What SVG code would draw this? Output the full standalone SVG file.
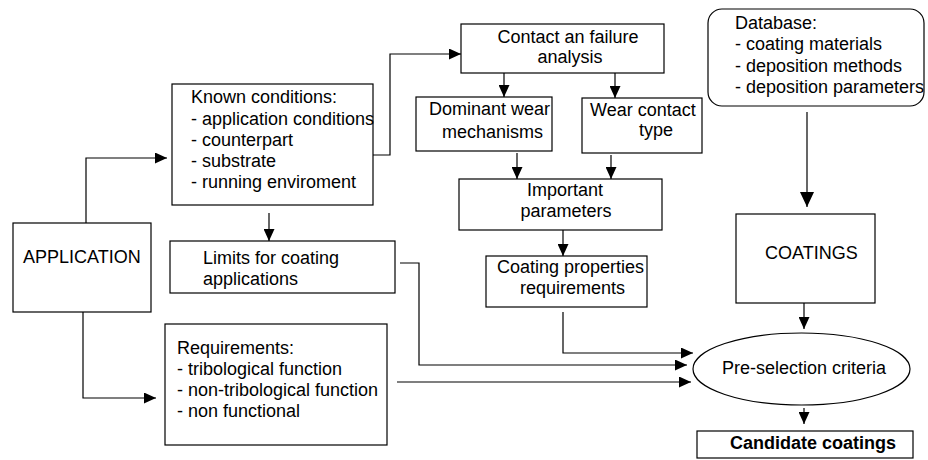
<svg xmlns="http://www.w3.org/2000/svg" width="928" height="460" viewBox="0 0 928 460">
<style>
  .box { fill: #fff; stroke: #000; stroke-width: 1.2; }
  .t { font-family: "Liberation Sans", Arial, sans-serif; font-size: 18px; fill: #000; }
  .b { font-weight: bold; }
  .c { text-anchor: middle; }
  .ln { fill: none; stroke: #000; stroke-width: 1.2; marker-end: url(#ah); }
  .lnb { fill: none; stroke: #000; stroke-width: 1.2; marker-end: url(#ahb); }
</style>
<defs>
  <marker id="ah" viewBox="0 0 12 11" refX="12" refY="5.5" markerWidth="12" markerHeight="11" markerUnits="userSpaceOnUse" orient="auto">
    <path d="M0,0 L12,5.5 L0,11 z" fill="#000"/>
  </marker>
  <marker id="ahb" viewBox="0 0 15 14" refX="15" refY="7" markerWidth="15" markerHeight="14" markerUnits="userSpaceOnUse" orient="auto">
    <path d="M0,0 L15,7 L0,14 z" fill="#000"/>
  </marker>
</defs>
<rect width="928" height="460" fill="#fff"/>

<g id="connectors">
  <path class="ln" d="M86,223 V158 H167"/>
  <path class="ln" d="M83,312 V398 H156"/>
  <path class="ln" d="M373,155 H390 V54 H461"/>
  <path class="ln" d="M269,213 V241"/>
  <path class="ln" d="M504,73 V97"/>
  <path class="ln" d="M615,73 V98"/>
  <path class="ln" d="M517,153 V179"/>
  <path class="ln" d="M611,155 V179"/>
  <path class="ln" d="M563,230 V256"/>
  <path class="ln" d="M563,312 V353 H693"/>
  <path class="ln" d="M400,263 H419 V365 H687"/>
  <path class="ln" d="M397,382 H691"/>
  <path class="lnb" d="M807,112 V207"/>
  <path class="ln" d="M804,303 V329"/>
  <path class="ln" d="M804,408 V424"/>
</g>

<g id="application">
  <rect class="box" x="13" y="223" width="138" height="89"/>
  <text class="t" x="23" y="263">APPLICATION</text>
</g>

<g id="known">
  <rect class="box" x="172" y="84" width="201" height="121"/>
  <text class="t" x="191" y="103">Known conditions:</text>
  <text class="t" x="191" y="124.5">- application conditions</text>
  <text class="t" x="191" y="146">- counterpart</text>
  <text class="t" x="191" y="167">- substrate</text>
  <text class="t" x="191" y="188">- running enviroment</text>
</g>

<g id="limits">
  <rect class="box" x="170" y="241" width="225" height="52"/>
  <text class="t" x="203" y="264">Limits for coating</text>
  <text class="t" x="203" y="285">applications</text>
</g>

<g id="requirements">
  <rect class="box" x="165" y="324" width="222" height="121"/>
  <text class="t" x="177" y="354">Requirements:</text>
  <text class="t" x="177" y="375">- tribological function</text>
  <text class="t" x="177" y="396">- non-tribological function</text>
  <text class="t" x="177" y="417">- non functional</text>
</g>

<g id="contact">
  <rect class="box" x="461" y="24" width="203" height="49"/>
  <text class="t c" x="568" y="43">Contact an failure</text>
  <text class="t c" x="570" y="63">analysis</text>
</g>

<g id="dominant">
  <rect class="box" x="416" y="97" width="136" height="54"/>
  <text class="t" x="429" y="115">Dominant wear</text>
  <text class="t" x="442" y="138">mechanisms</text>
</g>

<g id="wearcontact">
  <rect class="box" x="582" y="98" width="120" height="55"/>
  <text class="t" x="590" y="116">Wear contact</text>
  <text class="t" x="639" y="136">type</text>
</g>

<g id="important">
  <rect class="box" x="459" y="179" width="203" height="51"/>
  <text class="t c" x="565" y="196">Important</text>
  <text class="t c" x="566" y="217">parameters</text>
</g>

<g id="coatingprops">
  <rect class="box" x="486" y="256" width="161" height="51"/>
  <text class="t" x="497" y="273">Coating properties</text>
  <text class="t" x="520" y="294">requirements</text>
</g>

<g id="database">
  <rect class="box" x="708" y="9" width="216" height="97" rx="14" ry="14"/>
  <text class="t" x="735" y="29">Database:</text>
  <text class="t" x="735" y="50">- coating materials</text>
  <text class="t" x="735" y="72">- deposition methods</text>
  <text class="t" x="735" y="93">- deposition parameters</text>
</g>

<g id="coatings">
  <rect class="box" x="736" y="214" width="139" height="89"/>
  <text class="t" x="765" y="259">COATINGS</text>
</g>

<g id="preselection">
  <ellipse class="box" cx="801.5" cy="369" rx="108.5" ry="36"/>
  <text class="t" x="722" y="374">Pre-selection criteria</text>
</g>

<g id="candidate">
  <rect class="box" x="697" y="431" width="216" height="27"/>
  <text class="t b" x="730" y="449">Candidate coatings</text>
</g>
</svg>
